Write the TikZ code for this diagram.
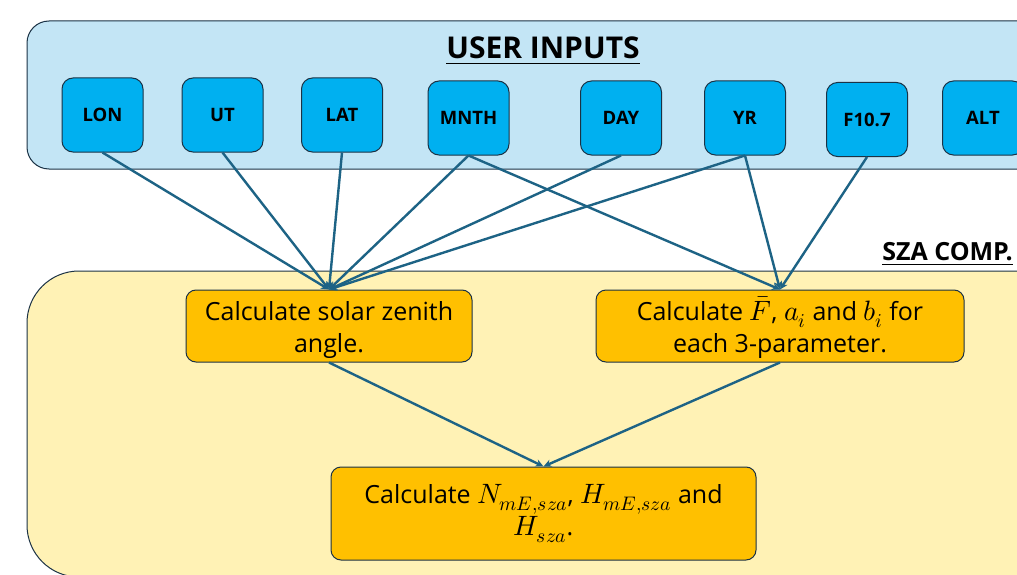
\documentclass[tikz,border=0pt]{standalone}
\usepackage{fontspec}
\usepackage{unicode-math}
\setmainfont{Open Sans}
\setmathfont[Scale=1.12]{Latin Modern Math}
\usetikzlibrary{arrows.meta}
\definecolor{edgeC}{HTML}{1B3245}
\definecolor{panelBlue}{HTML}{C3E5F5}
\definecolor{boxBlue}{HTML}{00B0F0}
\definecolor{panelYellow}{HTML}{FFF2B5}
\definecolor{boxYellow}{HTML}{FFC000}
\definecolor{lineC}{HTML}{1D6385}
\tikzset{
  inbox/.style={draw=edgeC, line width=1pt, fill=boxBlue, rounded corners=11pt,
    minimum width=81pt, minimum height=74pt, inner sep=0pt,
    font=\fontsize{18.5}{22}\selectfont\bfseries},
  calcbox/.style={draw=edgeC, line width=1pt, fill=boxYellow, rounded corners=10pt,
    inner sep=0pt, align=center, font=\fontsize{25}{32}\selectfont},
  conn/.style={draw=lineC, line width=2.4pt, -{Stealth[length=8pt,width=7.5pt]}},
  paneltitle/.style={font=\fontsize{30}{34}\selectfont\bfseries, inner sep=0pt}
}
\begin{document}
\begin{tikzpicture}[x=1pt,y=-1pt]
\useasboundingbox (0,0) rectangle (1017,575);
\fill[white] (0,0) rectangle (1017,575);
\begin{scope}
\clip (0,0) rectangle (1017,575);
\draw[draw=edgeC, line width=1pt, fill=panelBlue, rounded corners=22pt] (27,21) rectangle (1050,169);
\draw[draw=edgeC, line width=1pt, fill=panelYellow, rounded corners=52pt] (27,271) rectangle (1080,577);
\node[inbox] (lon) at (102.5,115) {LON};
\node[inbox] (ut) at (222.5,115) {UT};
\node[inbox] (lat) at (342,115) {LAT};
\node[inbox] (mnth) at (468.5,118) {MNTH};
\node[inbox] (day) at (621,118) {DAY};
\node[inbox] (yr) at (745,118) {YR};
\node[inbox] (f107) at (867,119.5) {F10.7};
\node[inbox] (alt) at (983,118) {ALT};
\end{scope}
\node[paneltitle] (uititle) at (543,51) {\underline{USER INPUTS}};
\node[paneltitle, font=\fontsize{25}{30}\selectfont\bfseries, anchor=east] (szatitle) at (1013,254) {\underline{SZA COMP.}};
\node[calcbox, minimum width=286pt, minimum height=72pt] (sza) at (329,326) {\rule{0pt}{27pt}Calculate solar zenith\\angle.};
\node[calcbox, minimum width=368pt, minimum height=72pt] (fbox) at (780,326) {\rule{0pt}{27pt}Calculate $\bar{F}$, $a_i$ and $b_i$ for\\each 3-parameter.};
\node[calcbox, minimum width=425pt, minimum height=93pt] (out) at (543.5,513.5) {Calculate $N_{mE,sza}$, $H_{mE,sza}$ and\\$H_{sza}$.};
\draw[conn] (lon.south) -- (sza.north);
\draw[conn] (ut.south) -- (sza.north);
\draw[conn] (lat.south) -- (sza.north);
\draw[conn] (mnth.south) -- (sza.north);
\draw[conn] (day.south) -- (sza.north);
\draw[conn] (yr.south) -- (sza.north);
\draw[conn] (mnth.south) -- (fbox.north);
\draw[conn] (yr.south) -- (fbox.north);
\draw[conn] (f107.south) -- (fbox.north);
\draw[conn] (sza.south) -- (out.north);
\draw[conn] (fbox.south) -- (out.north);
\end{tikzpicture}
\end{document}
